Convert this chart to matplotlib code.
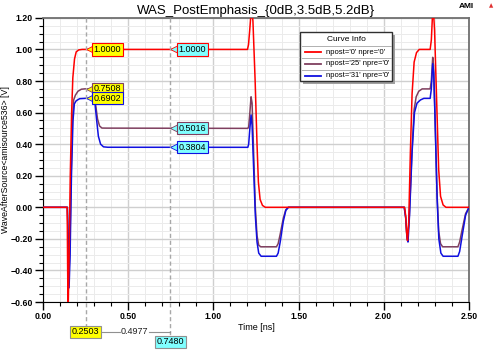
import numpy as np
import matplotlib
matplotlib.use("Agg")
import matplotlib.pyplot as plt
from matplotlib.patches import Rectangle
from matplotlib.lines import Line2D
from matplotlib import transforms

plt.rcParams['font.family'] = ['Liberation Sans', 'DejaVu Sans']

# ---- waveform samples (time in ns, voltage in V) ----
t_red = [0.0, 0.142, 0.144, 0.147, 0.152, 0.160, 0.168, 0.175, 0.185, 0.195, 0.210, 0.230,
         1.200, 1.206, 1.213, 1.220, 1.225, 1.232, 1.245, 1.256, 1.264, 1.274, 1.288, 1.305,
         2.122, 2.128, 2.134, 2.139, 2.146, 2.156, 2.166, 2.178, 2.192, 2.208,
         2.272, 2.279, 2.285, 2.291, 2.298, 2.310, 2.322, 2.333, 2.348, 2.365, 2.500]
v_red = [0.0, 0.0, -0.30, -0.68, -0.40, 0.20, 0.60, 0.82, 0.94, 0.985, 0.997, 1.0,
         1.0, 1.03, 1.12, 1.22, 1.25, 1.18, 0.80, 0.40, 0.16, 0.05, 0.012, 0.0,
         0.0, -0.05, -0.16, -0.21, -0.10, 0.35, 0.72, 0.92, 0.98, 1.0,
         1.0, 1.06, 1.20, 1.25, 1.12, 0.68, 0.24, 0.07, 0.015, 0.0, 0.0]

t_purple = [0.0, 0.143, 0.147, 0.151, 0.157, 0.165, 0.173, 0.180, 0.190, 0.205, 0.225, 0.250,
            0.292, 0.300, 0.310, 0.320, 0.332, 0.346, 0.370,
            1.202, 1.207, 1.214, 1.221, 1.227, 1.236, 1.246, 1.256, 1.266, 1.278,
            1.370, 1.380, 1.392, 1.410, 1.425, 1.440,
            2.120, 2.128, 2.135, 2.140, 2.150, 2.165, 2.178, 2.190, 2.205, 2.225,
            2.272, 2.279, 2.287, 2.292, 2.300, 2.312, 2.322, 2.333, 2.345,
            2.435, 2.445, 2.460, 2.480, 2.500]
v_purple = [0.0, 0.0, -0.20, -0.45, -0.30, 0.20, 0.55, 0.68, 0.71, 0.735, 0.748, 0.7508,
            0.750, 0.730, 0.640, 0.560, 0.515, 0.502, 0.5016,
            0.50, 0.51, 0.60, 0.70, 0.66, 0.35, 0.00, -0.18, -0.24, -0.25,
            -0.25, -0.23, -0.17, -0.07, -0.015, 0.0,
            0.0, -0.06, -0.18, -0.20, -0.05, 0.35, 0.62, 0.70, 0.735, 0.75,
            0.75, 0.80, 0.95, 0.90, 0.60, 0.10, -0.15, -0.23, -0.25,
            -0.25, -0.22, -0.14, -0.04, 0.0]

t_blue = [0.0, 0.143, 0.148, 0.153, 0.159, 0.167, 0.176, 0.184, 0.195, 0.215, 0.250,
          0.298, 0.305, 0.315, 0.325, 0.338, 0.355, 0.380,
          1.202, 1.207, 1.214, 1.221, 1.227, 1.236, 1.246, 1.256, 1.266, 1.280,
          1.370, 1.380, 1.392, 1.410, 1.425, 1.440,
          2.120, 2.129, 2.137, 2.142, 2.151, 2.166, 2.180, 2.195, 2.215, 2.235,
          2.272, 2.279, 2.287, 2.293, 2.301, 2.313, 2.323, 2.335, 2.348,
          2.435, 2.445, 2.460, 2.480, 2.500]
v_blue = [0.0, 0.0, -0.20, -0.51, -0.30, 0.20, 0.55, 0.655, 0.675, 0.688, 0.6902,
          0.690, 0.660, 0.550, 0.450, 0.400, 0.383, 0.3804,
          0.38, 0.40, 0.50, 0.585, 0.52, 0.25, -0.05, -0.22, -0.29, -0.31,
          -0.31, -0.29, -0.22, -0.09, -0.02, 0.0,
          0.0, -0.07, -0.20, -0.22, -0.05, 0.35, 0.60, 0.66, 0.68, 0.69,
          0.69, 0.75, 0.91, 0.85, 0.55, 0.05, -0.20, -0.29, -0.31,
          -0.31, -0.28, -0.18, -0.05, 0.0]

labels = ["npost='0' npre='0'", "npost='25' npre='0'", "npost='31' npre='0'"]
colors = ['#ff0000', '#7f3f5f', '#1010e0']

# cursor readouts
cursor_a = 0.2503
cursor_b = 0.7480
vals_a = [1.0000, 0.7508, 0.6902]
vals_b = [1.0000, 0.5016, 0.3804]

fig = plt.figure(figsize=(5, 3.5), dpi=100)
ax = fig.add_axes([0.086, 0.137, 0.852, 0.812])

series = [(t_red, v_red), (t_purple, v_purple), (t_blue, v_blue)]
for i in (1, 2, 0):
    t, v = series[i]
    ax.plot(t, v, color=colors[i], lw=1.1, zorder=3)

ax.set_xlim(0, 2.5)
ax.set_ylim(-0.6, 1.2)
ax.set_xticks(np.arange(0, 2.51, 0.5))
ax.set_xticks(np.arange(0, 2.51, 0.1), minor=True)
ax.set_yticks(np.arange(-0.6, 1.21, 0.2))
ax.set_yticks(np.arange(-0.6, 1.21, 0.05), minor=True)
ax.xaxis.set_major_formatter('{x:.2f}')
ax.yaxis.set_major_formatter('{x:.2f}')
ax.tick_params(which='major', direction='out', length=5.5, width=1, labelsize=6.3, pad=2)
ax.tick_params(which='minor', direction='out', length=3, width=0.8)
for lab in ax.get_xticklabels() + ax.get_yticklabels():
    lab.set_fontweight('bold')
ax.grid(which='major', color='#cfcfcf', lw=1.0)
ax.grid(which='minor', color='#ebebeb', lw=0.7)
ax.set_axisbelow(True)
for s in ('top', 'right'):
    ax.spines[s].set_color('#707070')
    ax.spines[s].set_linewidth(1.3)

ax.set_title('WAS_PostEmphasis_{0dB,3.5dB,5.2dB}', fontsize=9.5, pad=3)
ax.set_xlabel('Time [ns]', fontsize=6.5, labelpad=1)
ax.set_ylabel('WaveAfterSource<amisource536> [V]', fontsize=6.3)
ax.yaxis.set_label_coords(-0.078, 0.5)

# cursor lines extending below the axes
blend = transforms.blended_transform_factory(ax.transData, fig.transFigure)
y_a = 1 - 332 / 350
y_b = 1 - 342 / 350
ax_top = 0.137 + 0.812
for c, yb in ((cursor_a, y_a), (cursor_b, y_b)):
    fig.add_artist(Line2D([c, c], [ax_top, yb + 0.012], transform=blend, color='#a8a8a8',
                          lw=1.0, ls=(0, (3, 2)), zorder=2))


def flag(x, y, txt, face, edge):
    tr = transforms.offset_copy(ax.transData, fig=fig, x=4, y=0, units='dots')
    ax.plot(x, y, marker='<', ms=6, color=face, mec=edge, mew=0.6,
            transform=tr, zorder=5, clip_on=False)
    ax.annotate(txt, xy=(x, y), xytext=(8, 0), textcoords='offset pixels',
                ha='left', va='center', fontsize=6.5, zorder=6,
                bbox=dict(boxstyle='square,pad=0.18', fc=face, ec=edge, lw=0.8))


for v, c in zip(vals_a, colors):
    flag(cursor_a, v, f'{v:.4f}', '#ffff00', c)
for v, c in zip(vals_b, colors):
    flag(cursor_b, v, f'{v:.4f}', '#80ffff', c)

# readouts under the axis
fig.text(cursor_a, y_a, f'{cursor_a:.4f}', transform=blend, ha='center', va='center',
         fontsize=6.5, bbox=dict(boxstyle='square,pad=0.2', fc='#ffff00', ec='#909090', lw=0.8))
fig.text(cursor_b, y_b, f'{cursor_b:.4f}', transform=blend, ha='center', va='center',
         fontsize=6.5, bbox=dict(boxstyle='square,pad=0.2', fc='#80ffff', ec='#909090', lw=0.8))
mid = (cursor_a + cursor_b) / 2 + 0.035
fig.text(mid, y_a, f'{cursor_b - cursor_a:.4f}', transform=blend, ha='center', va='center',
         fontsize=6.5, color='#202020')
fig.add_artist(Line2D([cursor_a + 0.085, mid - 0.085], [y_a, y_a], transform=blend,
                      color='#909090', lw=0.8))
fig.add_artist(Line2D([mid + 0.085, cursor_b], [y_a, y_a], transform=blend,
                      color='#909090', lw=0.8))

# corner marks
fig.text(459 / 500, 1 - 7 / 350, 'AMI', fontsize=6, fontweight='bold', va='center')
fig.text(489 / 500, 1 - 6 / 350, '\u25B2', fontsize=4, color='#e03030', va='center',
         family='DejaVu Sans')


# legend box drawn in pixel units
def px(x, y):
    return x / 500, 1 - y / 350


lx0, lx1, ly0, ly1 = 300, 392, 32, 81
lw_f, lh_f = (lx1 - lx0) / 500, (ly1 - ly0) / 350
fig.add_artist(Rectangle(px(lx0 + 3, ly1 + 3), lw_f, lh_f, transform=fig.transFigure,
                         fc='#a0a0a0', ec='none', zorder=7))
fig.add_artist(Rectangle(px(lx0, ly1), lw_f, lh_f, transform=fig.transFigure,
                         fc='white', ec='#303030', lw=1.0, zorder=8))
for yy in (46, 58, 69.5):
    fig.add_artist(Line2D([px(lx0 + 1.5, 0)[0], px(lx1 - 1.5, 0)[0]], [px(0, yy)[1]] * 2,
                          transform=fig.transFigure, color='#b0b0b0', lw=0.7, zorder=9))
fig.text(*px(346.5, 39.5), 'Curve Info', ha='center', va='center', fontsize=6, zorder=10)
for yy, lab, c in zip((52, 63.5, 75.5), labels, colors):
    fig.add_artist(Line2D([px(305, 0)[0], px(321, 0)[0]], [px(0, yy)[1]] * 2,
                          transform=fig.transFigure, color=c, lw=1.3, zorder=10))
    fig.text(*px(326, yy), lab, ha='left', va='center', fontsize=5.5, zorder=10)

fig.savefig('out.png', dpi=100, facecolor='white')
